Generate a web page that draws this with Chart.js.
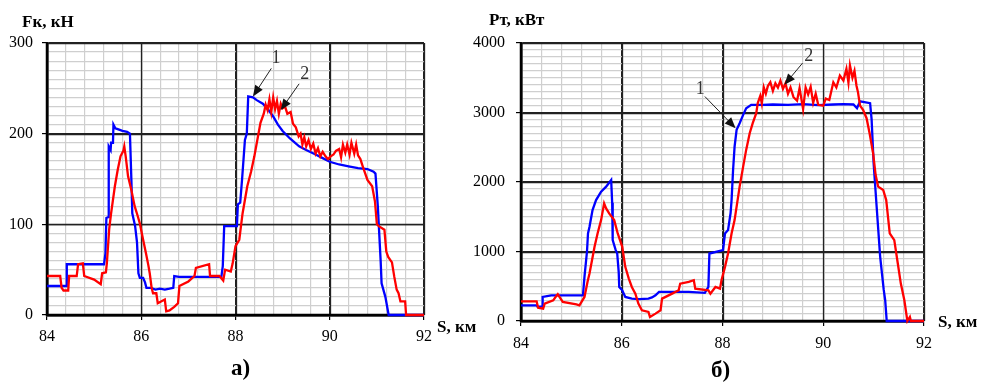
<!DOCTYPE html>
<html>
<head>
<meta charset="utf-8">
<script src="https://cdn.jsdelivr.net/npm/chart.js@4/dist/chart.umd.min.js"></script>
<style>
  body { margin: 0; background: #fff; width: 981px; height: 385px; position: relative; overflow: hidden; }
  canvas { position: absolute; top: 0; }
  #c1 { left: 0; }
  #c2 { left: 455px; }
  .lbl { position: absolute; font-family: "Liberation Serif", serif; font-weight: bold; color: #000; white-space: nowrap; }
</style>
</head>
<body>
<canvas id="c1" width="445" height="385"></canvas>
<canvas id="c2" width="485" height="385"></canvas>

<div class="lbl" style="left:22px; top:12px; font-size:17px;">Fк, кН</div>
<div class="lbl" style="left:437px; top:317px; font-size:17px;">S, км</div>
<div class="lbl" style="left:231px; top:355px; font-size:23px;">а)</div>

<div class="lbl" style="left:489px; top:10px; font-size:17px;">Pт, кВт</div>
<div class="lbl" style="left:938px; top:312px; font-size:17px;">S, км</div>
<div class="lbl" style="left:711px; top:357px; font-size:23px;">б)</div>

<script>
// tick labels
const distTicks = [84, 86, 88, 90, 92];
const forceTicks = [0, 100, 200, 300];
const powerTicks = [0, 1000, 2000, 3000, 4000];

// а) traction force, curve 1 (blue)
const forceKm1 = [84.0, 84.42, 84.42, 85.21, 85.24, 85.26, 85.3, 85.31, 85.35, 85.36, 85.4, 85.41, 85.45, 85.5, 85.6, 85.7, 85.76, 85.79, 85.81, 85.84, 85.87, 85.91, 85.94, 85.97, 86.04, 86.08, 86.11, 86.2, 86.3, 86.4, 86.5, 86.6, 86.68, 86.7, 86.8, 87.0, 87.3, 87.7, 87.73, 87.76, 88.03, 88.05, 88.1, 88.14, 88.2, 88.24, 88.27, 88.37, 88.45, 88.58, 88.7, 88.8, 88.9, 89.0, 89.15, 89.35, 89.5, 89.7, 89.85, 90.0, 90.2, 90.4, 90.6, 90.8, 90.93, 90.97, 91.02, 91.04, 91.08, 91.1, 91.18, 91.25, 92.0];
const force1 = [32, 32, 56, 56, 68, 107, 108, 186, 182, 190, 190, 210, 206, 205, 203, 202, 200, 150, 112, 105, 98, 80, 46, 41, 41, 36, 30, 30, 28, 29, 28, 29, 30, 43, 42, 42, 42, 42, 54, 98, 98, 122, 124, 150, 193, 200, 241, 240, 237, 233, 226, 219, 210, 203, 195, 186, 182, 177, 173, 169, 166, 164, 162, 161, 158, 156, 120, 100, 60, 35, 20, 0, 0];

// а) traction force, curve 2 (red)
const forceKm2 = [84.0, 84.28, 84.31, 84.35, 84.45, 84.47, 84.63, 84.66, 84.76, 84.79, 85.0, 85.14, 85.17, 85.25, 85.27, 85.32, 85.36, 85.44, 85.5, 85.56, 85.62, 85.64, 85.67, 85.72, 85.79, 85.86, 85.92, 85.97, 86.04, 86.1, 86.15, 86.18, 86.22, 86.25, 86.32, 86.35, 86.42, 86.5, 86.53, 86.6, 86.7, 86.78, 86.81, 87.0, 87.13, 87.16, 87.44, 87.46, 87.66, 87.74, 87.78, 87.9, 87.94, 88.0, 88.08, 88.15, 88.25, 88.33, 88.4, 88.47, 88.53, 88.6, 88.64, 88.68, 88.72, 88.76, 88.8, 88.84, 88.88, 88.92, 88.96, 89.0, 89.05, 89.1, 89.17, 89.22, 89.28, 89.34, 89.38, 89.42, 89.46, 89.5, 89.55, 89.6, 89.65, 89.7, 89.75, 89.8, 89.85, 89.91, 89.96, 90.02, 90.08, 90.13, 90.2, 90.24, 90.28, 90.33, 90.37, 90.42, 90.46, 90.52, 90.56, 90.6, 90.65, 90.7, 90.8, 90.9, 90.96, 91.0, 91.04, 91.16, 91.2, 91.24, 91.32, 91.37, 91.42, 91.46, 91.5, 91.6, 91.62, 92.0];
const force2 = [43, 43, 30, 27, 27, 43, 43, 56, 57, 43, 39, 34, 46, 47, 57, 95, 112, 142, 160, 175, 181, 186, 175, 153, 138, 120, 110, 101, 83, 68, 55, 46, 30, 24, 24, 13, 15, 17, 4, 5, 9, 13, 32, 37, 43, 52, 56, 43, 43, 38, 50, 48, 57, 76, 83, 112, 142, 158, 175, 195, 212, 222, 232, 226, 238, 224, 240, 227, 236, 222, 233, 228, 230, 222, 224, 211, 207, 197, 200, 188, 196, 186, 193, 183, 189, 178, 184, 175, 180, 175, 172, 175, 177, 181, 183, 174, 188, 179, 188, 177, 190, 178, 188, 176, 172, 164, 149, 142, 125, 100, 98, 94, 70, 64, 58, 42, 28, 24, 15, 15, 0, 0];

// б) traction power, curve 1 (blue)
const powerKm1 = [84.0, 84.31, 84.33, 84.42, 84.43, 84.6, 85.23, 85.26, 85.31, 85.33, 85.36, 85.42, 85.49, 85.59, 85.69, 85.79, 85.81, 85.82, 85.88, 85.91, 85.94, 85.95, 86.01, 86.07, 86.2, 86.35, 86.53, 86.6, 86.67, 86.74, 87.0, 87.33, 87.65, 87.72, 87.74, 88.01, 88.05, 88.11, 88.16, 88.18, 88.21, 88.24, 88.28, 88.34, 88.41, 88.47, 88.57, 88.8, 89.0, 89.3, 89.6, 89.9, 90.2, 90.4, 90.6, 90.67, 90.73, 90.93, 90.96, 91.0, 91.06, 91.13, 91.2, 91.23, 91.26, 92.0];
const power1 = [226, 226, 205, 210, 346, 370, 370, 635, 1000, 1260, 1356, 1596, 1740, 1860, 1933, 2029, 1700, 1163, 1019, 971, 700, 490, 442, 346, 322, 315, 322, 340, 370, 418, 418, 418, 404, 490, 971, 1019, 1260, 1308, 1550, 1740, 2173, 2510, 2750, 2846, 2966, 3062, 3111, 3110, 3115, 3110, 3120, 3105, 3115, 3120, 3115, 3062, 3160, 3135, 2900, 2270, 1644, 923, 450, 298, 0, 0];

// б) traction power, curve 2 (red)
const powerKm2 = [84.0, 84.31, 84.34, 84.44, 84.47, 84.64, 84.7, 84.73, 84.78, 84.83, 85.1, 85.16, 85.26, 85.32, 85.36, 85.46, 85.52, 85.59, 85.65, 85.69, 85.75, 85.85, 85.92, 86.01, 86.07, 86.14, 86.2, 86.27, 86.33, 86.4, 86.53, 86.56, 86.67, 86.77, 86.8, 87.0, 87.13, 87.16, 87.33, 87.43, 87.46, 87.72, 87.76, 87.86, 87.95, 87.98, 88.05, 88.11, 88.18, 88.24, 88.34, 88.41, 88.47, 88.54, 88.6, 88.67, 88.7, 88.75, 88.78, 88.82, 88.86, 88.9, 88.95, 89.0, 89.05, 89.1, 89.15, 89.2, 89.25, 89.3, 89.35, 89.41, 89.48, 89.53, 89.6, 89.65, 89.7, 89.75, 89.8, 89.85, 89.9, 90.0, 90.05, 90.12, 90.2, 90.26, 90.33, 90.4, 90.46, 90.5, 90.53, 90.58, 90.62, 90.66, 90.69, 90.73, 90.79, 90.86, 90.92, 90.99, 91.04, 91.09, 91.19, 91.25, 91.32, 91.41, 91.48, 91.54, 91.61, 91.67, 91.72, 91.74, 92.0];
const power2 = [283, 283, 192, 178, 250, 298, 360, 385, 330, 274, 240, 226, 346, 560, 683, 1067, 1260, 1452, 1692, 1620, 1548, 1452, 1260, 1067, 779, 610, 490, 394, 250, 154, 130, 58, 106, 154, 322, 394, 442, 538, 563, 587, 466, 442, 394, 490, 466, 587, 779, 971, 1260, 1452, 1933, 2221, 2462, 2702, 2846, 2990, 3135, 3240, 3130, 3362, 3270, 3380, 3435, 3310, 3420, 3360, 3460, 3340, 3420, 3270, 3360, 3220, 3169, 3350, 3048, 3360, 3260, 3370, 3140, 3270, 3110, 3097, 3200, 3180, 3435, 3360, 3531, 3460, 3628, 3430, 3676, 3500, 3600, 3386, 3290, 3100, 3038, 2918, 2702, 2413, 2100, 1933, 1885, 1740, 1260, 1163, 827, 538, 298, 0, 58, 0, 0];

// callouts "1" and "2": label point, arrow start, arrow tip (data units)
const forceNotes = [
  { text: '1', at: [88.86, 283], from: [88.76, 272], to: [88.37, 241] },
  { text: '2', at: [89.47, 266], from: [89.35, 255], to: [88.96, 226] }
];
const powerNotes = [
  { text: '1', at: [87.56, 3330], from: [87.65, 3230], to: [88.26, 2774] },
  { text: '2', at: [89.71, 3810], from: [89.59, 3712], to: [89.23, 3399] }
];

const serif = '"Liberation Serif", "Times New Roman", serif';

function pairs(xs, ys) {
  return xs.map((x, i) => ({ x: x, y: ys[i] }));
}

function isMajor(v, list) {
  return list.some(t => Math.abs(t - v) < 1e-6);
}

// major grid lines go over the light ones so they don't look dashed
function majorGridPlugin(yTicks) {
  return {
    id: 'majorGrid',
    beforeDatasetsDraw(chart) {
      const ctx = chart.ctx, a = chart.chartArea;
      const xs = chart.scales.x, ys = chart.scales.y;
      ctx.save();
      ctx.strokeStyle = '#222';
      ctx.lineWidth = 1.3;
      ctx.beginPath();
      distTicks.forEach(t => {
        const px = Math.round(xs.getPixelForValue(t)) + 0.5;
        ctx.moveTo(px, a.top);
        ctx.lineTo(px, a.bottom);
      });
      yTicks.forEach(t => {
        const py = Math.round(ys.getPixelForValue(t)) + 0.5;
        ctx.moveTo(a.left, py);
        ctx.lineTo(a.right, py);
      });
      ctx.stroke();
      ctx.strokeStyle = '#000';
      ctx.lineWidth = 2.5;
      ctx.beginPath();
      ctx.moveTo(a.left, a.top);
      ctx.lineTo(a.left, a.bottom);
      ctx.lineTo(a.right, a.bottom);
      ctx.stroke();
      ctx.restore();
    }
  };
}

function notesPlugin(notes) {
  return {
    id: 'notes',
    afterDatasetsDraw(chart) {
      const ctx = chart.ctx;
      const xs = chart.scales.x, ys = chart.scales.y;
      ctx.save();
      notes.forEach(n => {
        const x0 = xs.getPixelForValue(n.from[0]), y0 = ys.getPixelForValue(n.from[1]);
        const x1 = xs.getPixelForValue(n.to[0]), y1 = ys.getPixelForValue(n.to[1]);
        const a = Math.atan2(y1 - y0, x1 - x0);
        ctx.strokeStyle = '#222';
        ctx.fillStyle = '#111';
        ctx.lineWidth = 1;
        ctx.beginPath();
        ctx.moveTo(x0, y0);
        ctx.lineTo(x1 - 8 * Math.cos(a), y1 - 8 * Math.sin(a));
        ctx.stroke();
        ctx.beginPath();
        ctx.moveTo(x1, y1);
        ctx.lineTo(x1 - 11 * Math.cos(a) + 4.5 * Math.sin(a), y1 - 11 * Math.sin(a) - 4.5 * Math.cos(a));
        ctx.lineTo(x1 - 11 * Math.cos(a) - 4.5 * Math.sin(a), y1 - 11 * Math.sin(a) + 4.5 * Math.cos(a));
        ctx.closePath();
        ctx.fill();
        ctx.fillStyle = '#333';
        ctx.font = '18px ' + serif;
        ctx.textAlign = 'center';
        ctx.textBaseline = 'middle';
        ctx.fillText(n.text, xs.getPixelForValue(n.at[0]), ys.getPixelForValue(n.at[1]));
      });
      ctx.restore();
    }
  };
}

function makeChart(id, km1, v1, km2, v2, yMax, yStep, yTicks, notes, box) {
  const gridColor = list => c => isMajor(c.tick.value, list) ? '#222' : '#cfcfcf';
  const tickColor = list => c => isMajor(c.tick.value, list) ? '#000' : 'rgba(0,0,0,0)';
  return new Chart(document.getElementById(id), {
    type: 'line',
    data: {
      datasets: [
        { data: pairs(km2, v2), borderColor: '#ff0000', borderWidth: 2.3, pointRadius: 0, tension: 0, order: 1, clip: false },
        { data: pairs(km1, v1), borderColor: '#0000ff', borderWidth: 2.3, pointRadius: 0, tension: 0, order: 2, clip: false }
      ]
    },
    options: {
      responsive: false,
      animation: false,
      layout: { padding: { left: 0, top: box.top, right: box.right, bottom: box.bottom } },
      plugins: { legend: { display: false }, tooltip: { enabled: false } },
      scales: {
        x: {
          type: 'linear', min: 84, max: 92,
          afterFit: s => { s.height = 30; },
          border: { display: true, color: '#000', width: 2.5 },
          grid: { color: gridColor(distTicks), lineWidth: 1.2, tickColor: tickColor(distTicks), tickLength: 5 },
          ticks: {
            stepSize: 0.4, autoSkip: false, maxRotation: 0, padding: box.xPad,
            color: '#000', font: { family: serif, size: 16 },
            callback: v => isMajor(v, distTicks) ? String(Math.round(v)) : ''
          }
        },
        y: {
          min: 0, max: yMax,
          afterFit: s => { s.width = box.left; },
          border: { display: true, color: '#000', width: 2.5 },
          grid: { color: gridColor(yTicks), lineWidth: 1.2, tickColor: tickColor(yTicks), tickLength: 5 },
          ticks: {
            stepSize: yStep, autoSkip: false, padding: box.yPad,
            color: '#000', font: { family: serif, size: 16 },
            callback: v => isMajor(v, yTicks) ? String(v) : ''
          }
        }
      }
    },
    plugins: [majorGridPlugin(yTicks), notesPlugin(notes)]
  });
}

makeChart('c1', forceKm1, force1, forceKm2, force2, 300, 10, forceTicks, forceNotes,
  { left: 47, top: 43, right: 21, bottom: 40, xPad: 7, yPad: 9 });
makeChart('c2', powerKm1, power1, powerKm2, power2, 4000, 100, powerTicks, powerNotes,
  { left: 66, top: 43, right: 13, bottom: 34, xPad: 8, yPad: 11 });
</script>
</body>
</html>
